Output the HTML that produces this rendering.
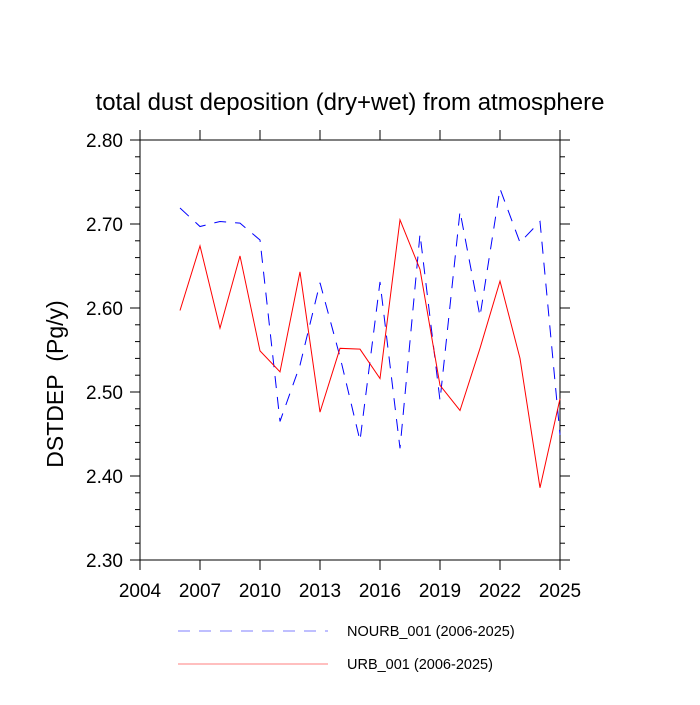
<!DOCTYPE html>
<html><head><meta charset="utf-8"><style>
html,body{margin:0;padding:0;background:#fff;}
svg text{font-family:"Liberation Sans",Arial,sans-serif;}
</style></head><body>
<svg id="chart" width="700" height="700" viewBox="0 0 700 700" xmlns="http://www.w3.org/2000/svg">
<text x="350" y="110" font-size="24" text-anchor="middle">total dust deposition (dry+wet) from atmosphere</text>
<text transform="translate(63,384) rotate(-90)" font-size="23" text-anchor="middle">DSTDEP&#160;&#160;(Pg/y)</text>
<g id="axes"></g>
<g id="series"></g>
<g>
<line x1="178" y1="631" x2="328" y2="631" stroke="#0000ff" stroke-opacity="0.5" stroke-width="1" stroke-dasharray="12,9"/>
<text x="347" y="636" font-size="14.5">NOURB_001 (2006-2025)</text>
<line x1="178" y1="664" x2="328" y2="664" stroke="#ff0000" stroke-opacity="0.5" stroke-width="1"/>
<text x="347" y="669" font-size="14.5">URB_001 (2006-2025)</text>
</g>
</svg>
<script>
const years=[2006,2007,2008,2009,2010,2011,2012,2013,2014,2015,2016,2017,2018,2019,2020,2021,2022,2023,2024,2025];
const nourb=[2.719,2.697,2.703,2.701,2.681,2.465,2.532,2.630,2.542,2.442,2.631,2.433,2.688,2.490,2.715,2.590,2.742,2.678,2.703,2.449];
const urb=[2.597,2.674,2.576,2.662,2.549,2.524,2.643,2.476,2.552,2.551,2.516,2.705,2.646,2.508,2.478,2.552,2.632,2.540,2.386,2.492];
const xTicks=[2004,2007,2010,2013,2016,2019,2022,2025];
const yTicks=[2.30,2.40,2.50,2.60,2.70,2.80];
const yTickLabels=["2.30","2.40","2.50","2.60","2.70","2.80"];
const X0=140,X1=560,Y0=140,Y1=560,xmin=2004,xmax=2025,ymin=2.30,ymax=2.80;
function sx(v){return X0+(v-xmin)/(xmax-xmin)*(X1-X0);}
function sy(v){return Y1-(v-ymin)/(ymax-ymin)*(Y1-Y0);}
const NS="http://www.w3.org/2000/svg";
const axes=document.getElementById('axes');
function mk(tag,attrs,parent){const e=document.createElementNS(NS,tag);for(const k in attrs)e.setAttribute(k,attrs[k]);parent.appendChild(e);return e;}
const frame=mk('rect',{x:X0,y:Y0,width:X1-X0,height:Y1-Y0,fill:'none',stroke:'#000','stroke-width':1},axes);


const tc='#000';
xTicks.forEach(t=>{
  const x=sx(t);
  const a=mk('line',{x1:x,y1:Y1,x2:x,y2:Y1+10,stroke:tc},axes);
  
  
  const b=mk('line',{x1:x,y1:Y0,x2:x,y2:Y0-10,stroke:tc},axes);
  
  
  const l=mk('text',{x:x,y:Y1+37,'font-size':19,'text-anchor':'middle'},axes);
  l.textContent=String(t);
  
  
});
for(let v=ymin;v<=ymax+1e-9;v+=0.02){
  const y=sy(v);const major=Math.abs((v-ymin)/0.1-Math.round((v-ymin)/0.1))<1e-6;
  const len=major?10:5;
  const a=mk('line',{x1:X0-len,y1:y,x2:X0,y2:y,stroke:tc},axes);
  
  
  const b=mk('line',{x1:X1,y1:y,x2:X1+len,y2:y,stroke:tc},axes);
  
  
}
yTicks.forEach((t,i)=>{
  const l=mk('text',{x:X0-17,y:sy(t)+7,'font-size':19,'text-anchor':'end'},axes);
  l.textContent=yTickLabels[i];
  
  
});
const series=document.getElementById('series');
function pts(arr){return arr.map((v,i)=>sx(years[i])+','+sy(v)).join(' ');}
const p1=mk('polyline',{points:pts(nourb),fill:'none',stroke:'#0000ff','stroke-width':1,'stroke-dasharray':'12,9'},series);


const p2=mk('polyline',{points:pts(urb),fill:'none',stroke:'#ff0000','stroke-width':1},series);


</script>
</body></html>
